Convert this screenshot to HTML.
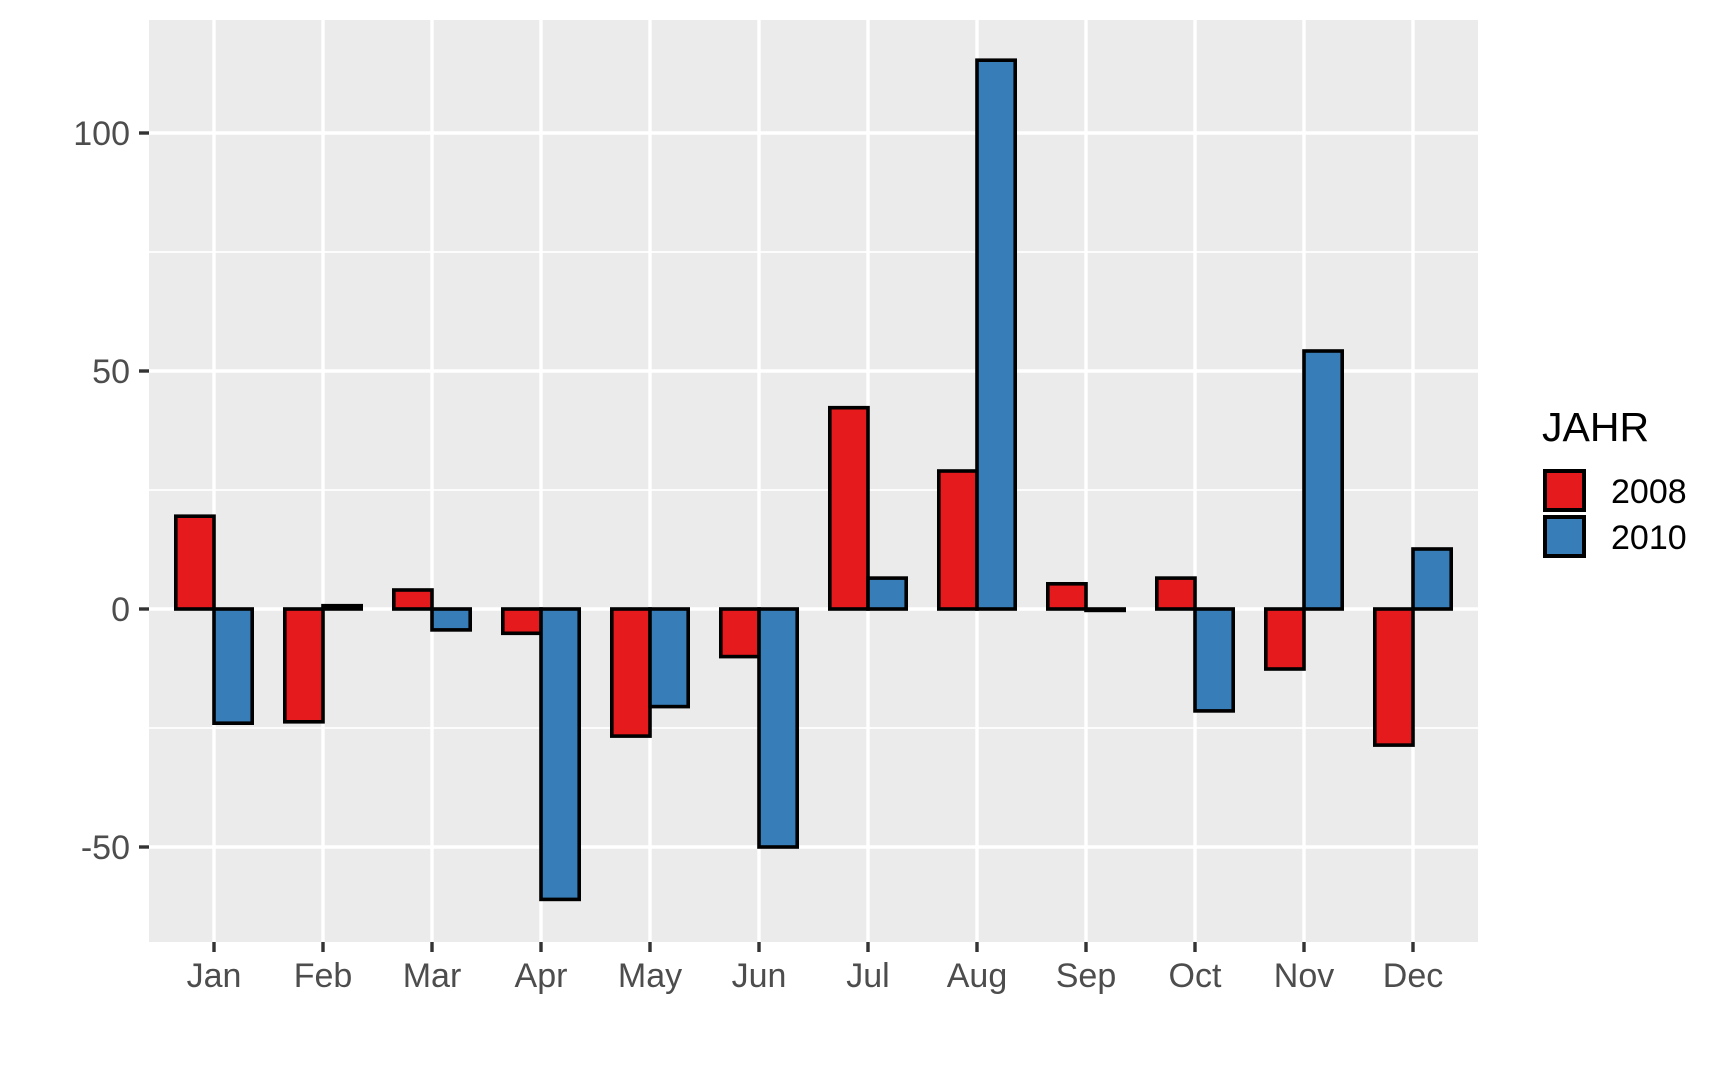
<!DOCTYPE html>
<html><head><meta charset="utf-8"><style>html,body{margin:0;padding:0;background:#fff}svg{display:block}</style></head><body>
<svg width="1728" height="1067" xmlns="http://www.w3.org/2000/svg" font-family="Liberation Sans, sans-serif">
<rect x="149" y="20" width="1329" height="922" fill="#ebebeb"/>
<g stroke="#fff" stroke-width="1.7">
<line x1="149" x2="1478" y1="252" y2="252"/><line x1="149" x2="1478" y1="490" y2="490"/><line x1="149" x2="1478" y1="728" y2="728"/>
</g>
<g stroke="#fff" stroke-width="3.4">
<line x1="149" x2="1478" y1="133" y2="133"/><line x1="149" x2="1478" y1="371" y2="371"/><line x1="149" x2="1478" y1="609" y2="609"/><line x1="149" x2="1478" y1="847" y2="847"/>
<line x1="214" x2="214" y1="20" y2="942"/><line x1="323" x2="323" y1="20" y2="942"/><line x1="432" x2="432" y1="20" y2="942"/><line x1="541" x2="541" y1="20" y2="942"/><line x1="650" x2="650" y1="20" y2="942"/><line x1="759" x2="759" y1="20" y2="942"/><line x1="868" x2="868" y1="20" y2="942"/><line x1="977" x2="977" y1="20" y2="942"/><line x1="1086" x2="1086" y1="20" y2="942"/><line x1="1195" x2="1195" y1="20" y2="942"/><line x1="1304" x2="1304" y1="20" y2="942"/><line x1="1413" x2="1413" y1="20" y2="942"/>
</g>
<g stroke="#000" stroke-width="3.6">
<g fill="#e41a1c">
<rect x="175.8" y="516.2" width="38.2" height="92.8"/>
<rect x="284.8" y="609" width="38.2" height="112.8"/>
<rect x="393.8" y="590" width="38.2" height="19"/>
<rect x="502.8" y="609" width="38.2" height="24.3"/>
<rect x="611.8" y="609" width="38.2" height="127.1"/>
<rect x="720.8" y="609" width="38.2" height="47.6"/>
<rect x="829.8" y="407.7" width="38.2" height="201.3"/>
<rect x="938.8" y="471" width="38.2" height="138"/>
<rect x="1047.8" y="583.8" width="38.2" height="25.2"/>
<rect x="1156.8" y="578.1" width="38.2" height="30.9"/>
<rect x="1265.8" y="609" width="38.2" height="60"/>
<rect x="1374.8" y="609" width="38.2" height="136.1"/>
</g>
<g fill="#377eb8">
<rect x="214" y="609" width="38.2" height="114.2"/>
<rect x="323" y="605.7" width="38.2" height="3.3"/>
<rect x="432" y="609" width="38.2" height="20.9"/>
<rect x="541" y="609" width="38.2" height="290.4"/>
<rect x="650" y="609" width="38.2" height="97.6"/>
<rect x="759" y="609" width="38.2" height="238"/>
<rect x="868" y="578.1" width="38.2" height="30.9"/>
<rect x="977" y="60.2" width="38.2" height="548.8"/>
<rect x="1086" y="609" width="38.2" height="1.4"/>
<rect x="1195" y="609" width="38.2" height="101.9"/>
<rect x="1304" y="351" width="38.2" height="258"/>
<rect x="1413" y="549" width="38.2" height="60"/>
</g>
</g>
<g stroke="#333" stroke-width="3.4">
<line x1="139" x2="149" y1="133" y2="133"/><line x1="139" x2="149" y1="371" y2="371"/><line x1="139" x2="149" y1="609" y2="609"/><line x1="139" x2="149" y1="847" y2="847"/>
<line x1="214" x2="214" y1="942" y2="952"/><line x1="323" x2="323" y1="942" y2="952"/><line x1="432" x2="432" y1="942" y2="952"/><line x1="541" x2="541" y1="942" y2="952"/><line x1="650" x2="650" y1="942" y2="952"/><line x1="759" x2="759" y1="942" y2="952"/><line x1="868" x2="868" y1="942" y2="952"/><line x1="977" x2="977" y1="942" y2="952"/><line x1="1086" x2="1086" y1="942" y2="952"/><line x1="1195" x2="1195" y1="942" y2="952"/><line x1="1304" x2="1304" y1="942" y2="952"/><line x1="1413" x2="1413" y1="942" y2="952"/>
</g>
<g fill="#4d4d4d" font-size="34" text-anchor="end">
<text x="130" y="145">100</text><text x="130" y="383">50</text><text x="130" y="621">0</text><text x="130" y="859">-50</text>
</g>
<g fill="#4d4d4d" font-size="34" text-anchor="middle">
<text x="214" y="987">Jan</text><text x="323" y="987">Feb</text><text x="432" y="987">Mar</text><text x="541" y="987">Apr</text><text x="650" y="987">May</text><text x="759" y="987">Jun</text><text x="868" y="987">Jul</text><text x="977" y="987">Aug</text><text x="1086" y="987">Sep</text><text x="1195" y="987">Oct</text><text x="1304" y="987">Nov</text><text x="1413" y="987">Dec</text>
</g>
<text x="1542" y="441" font-size="41" fill="#000">JAHR</text>
<rect x="1545" y="471" width="39" height="39" fill="#e41a1c" stroke="#000" stroke-width="4"/>
<rect x="1545" y="517" width="39" height="39" fill="#377eb8" stroke="#000" stroke-width="4"/>
<g font-size="34" fill="#000"><text x="1611" y="503">2008</text><text x="1611" y="549">2010</text></g>
</svg>
</body></html>
